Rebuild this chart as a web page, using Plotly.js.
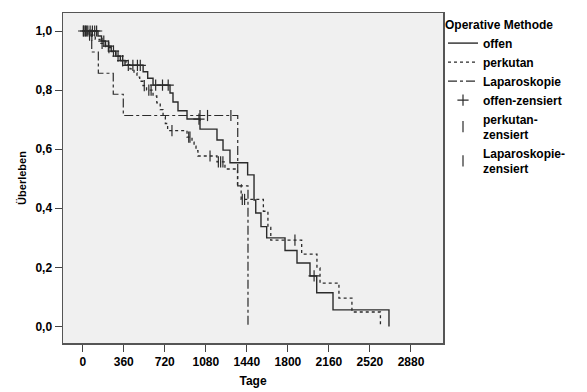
<!DOCTYPE html>
<html>
<head>
<meta charset="utf-8">
<script src="https://cdn.plot.ly/plotly-3.0.1.min.js"></script>
<style>html,body{margin:0;padding:0;background:#fff;}#chart{width:587px;height:392px;}</style>
</head>
<body>
<div id="chart"></div>
<script>
// Kaplan-Meier step data (days of events, survival after each event)
const offenDays = [134,165,200,250,290,330,371,530,570,617,766,792,836,915,1029,1178,1231,1292,1447,1503,1518,1564,1614,1775,1880,1994,2053,2196,2687];
const offenSurv = [0.983,0.966,0.949,0.932,0.915,0.900,0.884,0.862,0.840,0.817,0.790,0.760,0.730,0.702,0.668,0.631,0.597,0.554,0.513,0.428,0.384,0.338,0.300,0.257,0.215,0.171,0.114,0.056,0];
const offenCensored = [8,25,45,65,85,105,122,185,225,270,310,350,400,440,480,505,640,700,750,1020,2030];

const perkDays = [46,110,152,200,250,290,330,380,415,450,476,500,529,560,617,650,680,705,725,745,915,959,977,994,1011,1178,1248,1358,1390,1585,1625,1650,1921,2055,2082,2248,2362,2612];
const perkSurv = [0.986,0.972,0.958,0.944,0.930,0.915,0.900,0.886,0.872,0.858,0.844,0.830,0.815,0.800,0.780,0.757,0.734,0.710,0.687,0.663,0.641,0.624,0.610,0.595,0.577,0.557,0.533,0.480,0.430,0.390,0.335,0.292,0.245,0.198,0.147,0.096,0.049,0];
const perkCensored = [5,20,35,60,80,170,230,350,540,580,600,783,930,941,1117,1190,1210,1230,1400,1420,1862];

const lapDays = [79,137,268,356,1360,1450];
const lapSurv = [0.929,0.857,0.786,0.714,0.476,0];
const lapCensored = [1029,1095,1300];

const seriesNames = ['offen','perkutan','Laparoskopie','offen-zensiert','perkutan-<br>zensiert','Laparoskopie-<br>zensiert'];
const yTickVals = [0,0.2,0.4,0.6,0.8,1.0];
const yTickText = ['0,0','0,2','0,4','0,6','0,8','1,0'];
const xTickVals = [0,360,720,1080,1440,1800,2160,2520,2880];

function stepXY(days, surv){
  return {x:[0].concat(days), y:[1].concat(surv)};
}
function survAt(days, surv, t){
  let s = 1;
  for(let i=0;i<days.length;i++){ if(days[i] <= t) s = surv[i]; }
  return s;
}
const ink = '#2b2b2b';
const o = stepXY(offenDays, offenSurv);
const p = stepXY(perkDays, perkSurv);
const l = stepXY(lapDays, lapSurv);

const traces = [
  {x:o.x, y:o.y, mode:'lines', line:{shape:'hv', color:ink, width:1.4}, name:seriesNames[0]},
  {x:p.x, y:p.y, mode:'lines', line:{shape:'hv', color:ink, width:1.3, dash:'dot'}, name:seriesNames[1]},
  {x:l.x, y:l.y, mode:'lines', line:{shape:'hv', color:ink, width:1.2, dash:'dashdot'}, name:seriesNames[2]},
  {x:offenCensored, y:offenCensored.map(t=>survAt(offenDays,offenSurv,t)), mode:'markers',
   marker:{symbol:'cross-thin-open', size:8, color:ink, line:{color:ink, width:1.2}}, name:seriesNames[3]},
  {x:perkCensored, y:perkCensored.map(t=>survAt(perkDays,perkSurv,t)), mode:'markers',
   marker:{symbol:'line-ns-open', size:8, color:ink, line:{color:ink, width:1.2}}, name:seriesNames[4]},
  {x:lapCensored, y:lapCensored.map(t=>survAt(lapDays,lapSurv,t)), mode:'markers',
   marker:{symbol:'line-ns-open', size:8, color:ink, line:{color:ink, width:1.2}}, name:seriesNames[5]}
];

const font = {family:'Liberation Sans, Arial, sans-serif', size:12, color:'#000', weight:'bold'};
const layout = {
  width:587, height:392,
  margin:{l:63, r:144, t:13, b:49},
  paper_bgcolor:'#ffffff', plot_bgcolor:'#f0f0f0',
  font:font,
  showlegend:true,
  legend:{x:1.0, xanchor:'left', y:1.0, yanchor:'top', bgcolor:'rgba(0,0,0,0)',
          font:{family:font.family, size:12, color:'#000', weight:'bold'},
          title:{text:'Operative Methode', font:{family:font.family, size:12, color:'#000', weight:'bold'}},
          itemwidth:30, tracegroupgap:0},
  xaxis:{range:[-173,3161], tickvals:xTickVals, ticks:'outside', ticklen:7, tickcolor:'#444',
         showline:true, linecolor:'#555', linewidth:1.5, mirror:true, showgrid:false, zeroline:false,
         tickfont:{family:font.family, size:12, color:'#000', weight:'bold'},
         title:{text:'Tage', font:{family:font.family, size:12, color:'#000', weight:'bold'}, standoff:8}},
  yaxis:{range:[-0.056,1.061], tickvals:yTickVals, ticktext:yTickText, ticks:'outside', ticklen:7, tickcolor:'#444',
         showline:true, linecolor:'#555', linewidth:1.5, mirror:true, showgrid:false, zeroline:false,
         tickfont:{family:font.family, size:12, color:'#000', weight:'bold'},
         title:{text:'Überleben', font:{family:font.family, size:11, color:'#000', weight:'bold'}, standoff:6}}
};
Plotly.newPlot('chart', traces, layout, {displayModeBar:false, staticPlot:true});
</script>
</body>
</html>
